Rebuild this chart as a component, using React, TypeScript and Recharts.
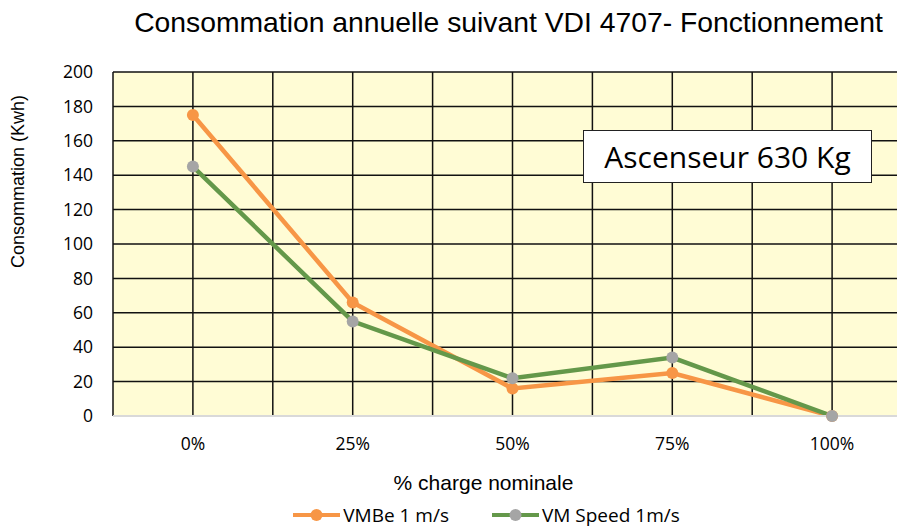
import React from 'react';
import { LineChart, Line, XAxis, YAxis, CartesianGrid, Legend } from 'recharts';

const categories = ['0%', '25%', '50%', '75%', '100%'];
const vmbeValues = [175, 66, 16, 25, 0];
const vmSpeedValues = [145, 55, 22, 34, 0];
const yTicks = [0, 20, 40, 60, 80, 100, 120, 140, 160, 180, 200];
const xTicks = [-0.5, 0, 0.5, 1, 1.5, 2, 2.5, 3, 3.5, 4, 4.5];

const ORANGE = '#F79646';
const GREEN = '#64984A';
const GRAY = '#A5A5A5';
const TICK_FONT = '"Open Sans", sans-serif';
const ARIAL = '"Liberation Sans", Arial, sans-serif';

const data = categories.map((c, i) => ({
  x: i,
  label: c,
  vmbe: vmbeValues[i],
  vmSpeed: vmSpeedValues[i],
}));

const series = [
  { key: 'vmbe', name: 'VMBe 1 m/s', line: ORANGE, dot: ORANGE },
  { key: 'vmSpeed', name: 'VM Speed 1m/s', line: GREEN, dot: GRAY },
];

const LegendContent = () => (
  <div style={{ display: 'flex', justifyContent: 'center', alignItems: 'center', height: 24, paddingLeft: 53, gap: 43 }}>
    {series.map(s => (
      <div key={s.key} style={{ display: 'flex', alignItems: 'center', gap: 3 }}>
        <svg width={47} height={14}>
          <line x1={0} y1={7} x2={47} y2={7} stroke={s.line} strokeWidth={4} />
          <circle cx={23.5} cy={7} r={6} fill={s.dot} />
        </svg>
        <span style={{ fontFamily: TICK_FONT, fontSize: 19, color: '#000' }}>{s.name}</span>
      </div>
    ))}
  </div>
);

const YLabel = (props: any) => {
  const vb = props.viewBox || { x: 0, y: 64 };
  const x = vb.x + 10;
  const y = vb.y + 109.5;
  return (
    <text x={x} y={y} transform={`rotate(-90, ${x}, ${y})`} textAnchor="middle" dominantBaseline="central"
      fontFamily={ARIAL} fontSize={18} fill="#000">
      Consommation (Kwh)
    </text>
  );
};

const XLabel = (props: any) => {
  const vb = props.viewBox || { x: 105, y: 408, width: 799 };
  return (
    <text x={vb.x + vb.width / 2 - 29} y={vb.y + 66} textAnchor="middle" dominantBaseline="central"
      fontFamily={ARIAL} fontSize={21} fill="#000">
      % charge nominale
    </text>
  );
};

const App: React.FC = () => {
  return (
    <div style={{ position: 'relative', width: 897, height: 519 }}>
      <div style={{ position: 'absolute', top: 0, left: 0, width: 897, height: 519, overflow: 'hidden', background: '#fff' }}>
        <LineChart
          width={910}
          height={519}
          data={data}
          margin={{ top: 64, right: 6, left: 0, bottom: 0 }}
        >
          <CartesianGrid stroke="#111" strokeWidth={1.5} fill="#FFFCD5" fillOpacity={1} />
          <XAxis
            dataKey="x"
            type="number"
            domain={[-0.5, 4.5]}
            ticks={xTicks}
            interval={0}
            tickFormatter={(v: number) => (Number.isInteger(v) ? categories[v] : '')}
            tickLine={false}
            tickSize={0}
            tickMargin={22}
            axisLine={{ stroke: '#D9D9D9', strokeWidth: 2 }}
            tick={{ fontFamily: TICK_FONT, fontSize: 17.5, fill: '#000' }}
            height={87}
            label={<XLabel />}
          />
          <YAxis
            domain={[0, 200]}
            ticks={yTicks}
            interval={0}
            width={105}
            axisLine={false}
            tickLine={false}
            tickSize={0}
            tickMargin={20}
            tick={{ fontFamily: TICK_FONT, fontSize: 17.5, fill: '#000' }}
            label={<YLabel />}
          />
          {series.map(s => (
            <Line
              key={s.key}
              type="linear"
              dataKey={s.key}
              name={s.name}
              stroke={s.line}
              strokeWidth={4.5}
              dot={{ r: 6, fill: s.dot, stroke: 'none' }}
              activeDot={false}
              isAnimationActive={false}
            />
          ))}
          <Legend verticalAlign="bottom" height={24} content={<LegendContent />} />
        </LineChart>
      </div>
      <div style={{
        position: 'absolute', top: -2, left: 0, width: 897, paddingLeft: 104, boxSizing: 'border-box',
        textAlign: 'center', whiteSpace: 'nowrap',
        fontFamily: ARIAL, fontSize: 28.3, lineHeight: '32px', color: '#000',
      }}>
        Consommation annuelle suivant VDI 4707- Fonctionnement
      </div>
      <div style={{
        position: 'absolute', left: 575, top: 122, width: 289, height: 53, boxSizing: 'border-box',
        border: '1.5px solid #222', background: '#fff', display: 'flex', alignItems: 'center',
        justifyContent: 'center', fontFamily: TICK_FONT, fontSize: 30, color: '#000',
      }}>
        Ascenseur 630 Kg
      </div>
    </div>
  );
};

export default App;
